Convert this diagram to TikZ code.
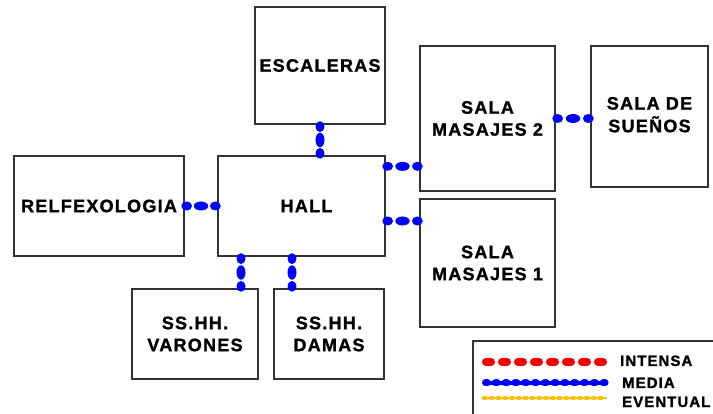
\documentclass[tikz,border=0pt]{standalone}
\usepackage{fontspec}
\setmainfont{Liberation Sans}[LetterSpace=7, BoldFeatures={FakeBold=1.3}]
\usetikzlibrary{decorations.markings}
\definecolor{boxline}{HTML}{333333}
\definecolor{linkblue}{HTML}{0000FF}
\definecolor{linkred}{HTML}{FF0000}
\definecolor{linkorange}{HTML}{FFC000}
\begin{document}
\begin{tikzpicture}[x=1pt,y=-1pt,
  room/.style={draw=boxline, line width=1.3pt, rectangle, inner sep=0pt, align=center,
    font=\fontsize{18}{22}\selectfont\bfseries},
  link/.style={decoration={markings,
      mark=at position 2pt with {\fill[linkblue] (0,0) ellipse [x radius=5.4pt, y radius=4.5pt];},
      mark=at position 0.5 with {\fill[linkblue] (0,0) ellipse [x radius=7.2pt, y radius=4.5pt];},
      mark=at position -2pt with {\fill[linkblue] (0,0) ellipse [x radius=5.4pt, y radius=4.5pt];}},
    decorate},
  legred/.style={draw=linkred, line width=7.5pt, line cap=round, dash pattern=on 5.5pt off 10.5pt},
  legbluebase/.style={draw=linkblue, line width=4pt, line cap=round},
  legblue/.style={draw=linkblue, line width=7pt, line cap=round, dash pattern=on 2pt off 7.8pt},
  legorangebase/.style={draw=linkorange, line width=2.5pt, line cap=round},
  legorange/.style={draw=linkorange, line width=4.6pt, line cap=round, dash pattern=on 1.5pt off 5.3pt},
  legtext/.style={anchor=base west, inner sep=0pt, font=\fontsize{15}{18}\selectfont\bfseries}
]
\useasboundingbox (0,0) rectangle (713,414);
\fill[white] (0,0) rectangle (713,414);

\node[room, minimum width=130pt, minimum height=117pt] (esc) at (320,65.5) {ESCALERAS};
\node[room, minimum width=167pt, minimum height=100pt] (hall) at (301.5,206) {\hspace*{10pt}HALL};
\node[room, minimum width=170pt, minimum height=100pt] (relf) at (99,206) {RELFEXOLOGIA};
\node[room, minimum width=135pt, minimum height=145pt] (m2) at (487.5,118.5) {SALA\\MASAJES 2};
\node[room, minimum width=117pt, minimum height=141pt] (sue) at (649.5,116.5) {\raisebox{-3pt}{\begin{tabular}{@{}c@{}}SALA DE\\SUEÑOS\end{tabular}}};
\node[room, minimum width=135pt, minimum height=128pt] (m1) at (487.5,263) {SALA\\MASAJES 1};
\node[room, minimum width=126pt, minimum height=90pt] (var) at (195,334) {SS.HH.\\VARONES};
\node[room, minimum width=110pt, minimum height=90pt] (dam) at (329,334) {SS.HH.\\DAMAS};

\path[link] (esc.south) -- (esc.south |- hall.north);
\path[link] (relf.east) -- (hall.west);
\path[link] ([yshift=-11pt]hall.north east) -- ([yshift=-11pt]hall.north east -| m2.west);
\path[link] ([yshift=-15pt]hall.east) -- ([yshift=-15pt]hall.east -| m1.west);
\path[link] (m2.east) -- (m2.east -| sue.west);
\path[link] ([xshift=-60.5pt]hall.south) -- ([xshift=-60.5pt]hall.south |- var.north);
\path[link] ([xshift=-9.5pt]hall.south) -- ([xshift=-9.5pt]hall.south |- dam.north);

\node[draw=boxline, line width=1.3pt, rectangle, inner sep=0pt, minimum width=243pt, minimum height=76pt] (leg) at (594.5,379) {};
\coordinate (r1) at (485.75,362); \coordinate (r2) at (603.25,362);
\coordinate (b1) at (485.5,383); \coordinate (b2) at (605.1,383);
\coordinate (o1) at (484,398); \coordinate (o2) at (606,398);
\draw[legred] (r1) -- (r2);
\draw[legbluebase] (b1) -- (b2);
\draw[legblue] (b1) -- (b2);
\draw[legorangebase] (o1) -- (o2);
\draw[legorange] (o1) -- (o2);
\node[legtext] (tint) at (620,366) {INTENSA};
\node[legtext] (tmed) at (622,388) {MEDIA};
\node[legtext] (tev) at (622,407) {EVENTUAL};
\end{tikzpicture}
\end{document}
